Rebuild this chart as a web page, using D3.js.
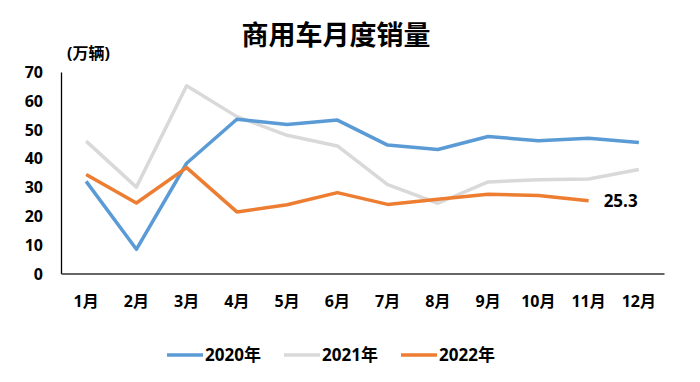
<!DOCTYPE html>
<html><head><meta charset="utf-8">
<script src="https://cdn.jsdelivr.net/npm/d3@7"></script>
<style>body{margin:0;background:#fff}svg{display:block}text{font-family:"Open Sans","Noto Sans CJK SC",sans-serif;font-weight:bold;fill:#000}</style>
</head><body><svg id="c" width="700" height="382"></svg>
<script>
const months = ["1月","2月","3月","4月","5月","6月","7月","8月","9月","10月","11月","12月"];
const s2020 = [32.0,8.4,38.3,53.6,51.8,53.3,44.6,43.1,47.6,46.1,47.0,45.5];
const s2021 = [46.0,30.0,65.2,54.5,48.0,44.3,30.9,24.4,31.8,32.6,32.8,36.1];
const s2022 = [34.4,24.5,36.8,21.4,23.9,28.1,24.0,25.8,27.5,27.1,25.3];
const yTicks = [0,10,20,30,40,50,60,70];
const seriesNames = ["2020年","2021年","2022年"];
const colors = ["#5B9BD5","#D9D9D9","#ED7D31"];

const svg = d3.select("#c");
const x = d3.scaleBand().domain(months).range([61,664]);
const y = d3.scaleLinear().domain([0,70]).range([273.5,72]);

svg.append("text").attr("x",336).attr("y",45).attr("text-anchor","middle").style("font-size","27px").text("商用车月度销量");
svg.append("text").attr("x",67).attr("y",53).attr("dy","0.35em").style("font-size","16px").text("(万辆)");

const ya = svg.append("g").attr("transform","translate(61,0)").call(d3.axisLeft(y).tickValues(yTicks).tickSize(0).tickPadding(18));
ya.select(".domain").attr("stroke","#000").attr("stroke-width",1.3);
ya.selectAll("text").style("font-size","16px").attr("dy","0.35em");

const xa = svg.append("g").attr("transform","translate(0,273.5)").call(d3.axisBottom(x).tickSize(0).tickPadding(0));
xa.select(".domain").attr("stroke","#333").attr("stroke-width",1.5);
xa.selectAll("text").style("font-size","16px").attr("y",28).attr("dy","0.35em");

const line = d3.line().x((d,i)=>x(months[i])+x.bandwidth()/2).y(d=>y(d));
[s2021,s2020,s2022].forEach((s,k)=>{
  const idx=[1,0,2][k];
  svg.append("path").datum(s).attr("d",line).attr("fill","none").attr("stroke",colors[idx]).attr("stroke-width",3.5).attr("stroke-linejoin","round");
});
const last = s2022.length-1;
svg.append("text").attr("x",x(months[last])+x.bandwidth()/2+15).attr("y",y(s2022[last])).attr("dy","0.35em").style("font-size","17px").text(s2022[last].toFixed(1));

const lg = svg.append("g");
seriesNames.forEach((n,i)=>{
  const lx = 167 + i*117;
  lg.append("line").attr("x1",lx).attr("x2",lx+36).attr("y1",355).attr("y2",355).attr("stroke",colors[i]).attr("stroke-width",3.5);
  lg.append("text").attr("x",lx+38).attr("y",355).attr("dy","0.35em").style("font-size","17px").text(n);
});
</script></body></html>
